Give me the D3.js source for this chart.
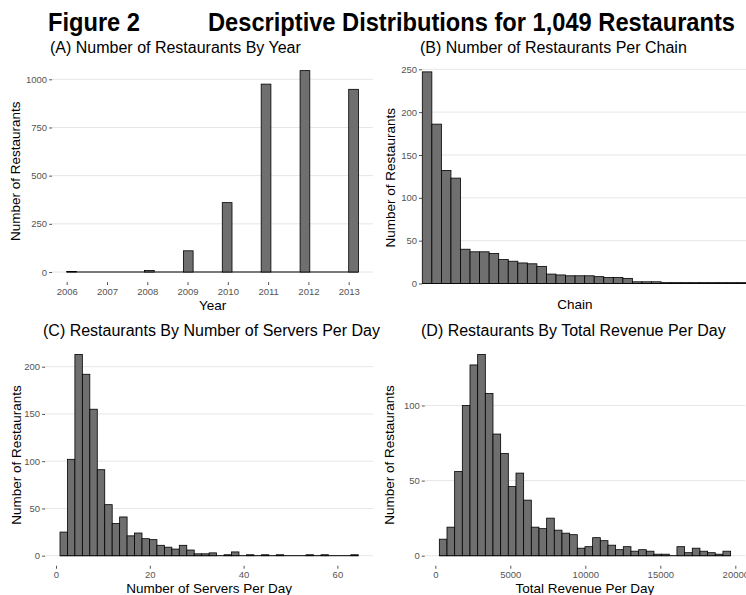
<!DOCTYPE html>
<html>
<head>
<meta charset="utf-8">
<script src="https://cdn.jsdelivr.net/npm/d3@7"></script>
<style>
  body { margin: 0; background: #fff; }
  text { font-family: "Liberation Sans", Arial, sans-serif; }
</style>
</head>
<body>
<script>
// ---- data ----
// (A) restaurants observed by year
const years = [2006, 2007, 2008, 2009, 2010, 2011, 2012, 2013];
const yearCounts = [3, 0, 8, 110, 360, 975, 1045, 948];

// (B) restaurants per chain, sorted
const chainCounts = [247, 186, 132, 123, 40, 37, 37, 35, 28, 26, 24, 23, 20, 11, 10, 9, 9,
                     9, 8, 7, 7, 6, 2, 2, 2, 1, 1, 1, 1, 1, 1, 1, 1, 1];

// (C) histogram of servers per day
const serverBinStart = 0.85, serverBinWidth = 1.59;
const serverCounts = [25, 102, 213, 192, 155, 91, 54, 34, 41, 21, 24, 18, 17, 11, 9, 7, 11, 6, 2, 2,
                      3, 0, 1, 4, 0, 1, 0, 1, 0, 1, 0, 0, 0, 1, 0, 1, 0, 0, 0, 1];

// (D) histogram of total revenue per day
const revenueBinStart = 269, revenueBinWidth = 511;
const revenueCounts = [11, 19, 56, 100, 127, 134, 108, 81, 68, 46, 55, 37, 19, 18, 25, 17, 15, 14, 5,
                       6, 12, 10, 7, 4, 6, 3, 4, 3, 1, 1, 0, 6, 2, 5, 3, 2, 1, 3];

const yearTicks = years;
const chainYTicks = [0, 50, 100, 150, 200, 250];
const yearYTicks = [0, 250, 500, 750, 1000];
const serverXTicks = [0, 20, 40, 60];
const serverYTicks = [0, 50, 100, 150, 200];
const revenueXTicks = [0, 5000, 10000, 15000, 20000];
const revenueYTicks = [0, 50, 100];

const barFill = "#6f6f6f";
const gridCol = "#e6e6e6";
const tickCol = "#555555";

const svg = d3.select("body").append("svg")
            .attr("width", 746)
            .attr("height", 595);

// Title
svg.append("text").attr("x", 48).attr("y", 31)
   .text("Figure 2")
   .style("font-size", "25px").style("font-weight", "bold")
   .attr("textLength", 92).attr("lengthAdjust", "spacingAndGlyphs");
svg.append("text").attr("x", 208).attr("y", 31)
   .text("Descriptive Distributions for 1,049 Restaurants")
   .style("font-size", "25px").style("font-weight", "bold")
   .attr("textLength", 527).attr("lengthAdjust", "spacingAndGlyphs");

// grid + y axis for a panel
function frame(p, y, yTicks) {
  const g = svg.append("g");
  g.selectAll("line.grid")
   .data(yTicks)
   .enter()
   .append("line")
   .attr("x1", p.left).attr("x2", p.right)
   .attr("y1", d => y(d)).attr("y2", d => y(d))
   .attr("stroke", gridCol).attr("stroke-width", 1);

  const ax = svg.append("g")
    .attr("transform", `translate(${p.left},0)`)
    .call(d3.axisLeft(y).tickValues(yTicks).tickFormat(d3.format("d")).tickSize(3).tickPadding(2));
  ax.select(".domain").remove();
  ax.selectAll("line").attr("stroke", tickCol);
  ax.selectAll("text").attr("fill", tickCol)
    .style("font-size", "9.5px").style("font-family", "Liberation Sans, Arial, sans-serif");

  // subtitle
  svg.append("text").attr("x", p.titleX).attr("y", p.top - 8)
     .text(p.title).style("font-size", "16px");
  // y title
  svg.append("text")
     .attr("transform", `translate(${p.yTitleX},${(p.top + p.bottom) / 2}) rotate(-90)`)
     .attr("text-anchor", "middle")
     .text("Number of Restaurants").style("font-size", "13.5px");
}

function xAxis(p, x, ticks, fmt) {
  const ax = svg.append("g")
    .attr("transform", `translate(0,${p.bottom})`)
    .call(d3.axisBottom(x).tickValues(ticks).tickFormat(fmt).tickSize(3).tickPadding(3));
  ax.select(".domain").remove();
  ax.selectAll("line").attr("stroke", tickCol);
  ax.selectAll("text").attr("fill", tickCol)
    .style("font-size", "9.5px").style("font-family", "Liberation Sans, Arial, sans-serif");
}

function xTitle(cx, cy, label) {
  svg.append("text").attr("x", cx).attr("y", cy)
     .attr("text-anchor", "middle").text(label).style("font-size", "13.5px");
}

// histogram bars (zero bins show as the black baseline)
function bars(x, y, bins) {
  svg.append("line")
     .attr("x1", x(bins[0].x0)).attr("x2", x(bins[bins.length - 1].x1))
     .attr("y1", y(0)).attr("y2", y(0))
     .attr("stroke", "#000").attr("stroke-width", 1);
  svg.append("g").selectAll("rect")
     .data(bins.filter(d => d.n > 0))
     .enter()
     .append("rect")
     .attr("x", d => x(d.x0))
     .attr("width", d => x(d.x1) - x(d.x0))
     .attr("y", d => y(d.n))
     .attr("height", d => y(0) - y(d.n))
     .attr("fill", barFill)
     .attr("stroke", "#000")
     .attr("stroke-width", 0.8);
}

// ---------- (A) ----------
const xA = d3.scaleLinear().domain([2006, 2013]).range([66.7, 348.7]);
const yA = d3.scaleLinear().domain([0, 1000]).range([272, 79.3]);
const bwA = 7 / 29;
const binsA = d3.range(30).map(i => ({x0: 2006 + i * bwA, x1: 2006 + (i + 1) * bwA, n: 0}));
years.forEach((yr, i) => {
  binsA[Math.floor((yr - 2006) / bwA + 1e-9)].n = yearCounts[i];
});
const padAx = 0.05 * (binsA[29].x1 - 2006);
const pA = {left: xA(2006 - padAx), right: xA(binsA[29].x1 + padAx),
            top: yA(1.05 * d3.max(yearCounts)), bottom: yA(-0.05 * d3.max(yearCounts)),
            title: "(A) Number of Restaurants By Year", titleX: 50, yTitleX: 20};
frame(pA, yA, yearYTicks);
bars(xA, yA, binsA);
xAxis(pA, xA, yearTicks, d3.format("d"));
xTitle((pA.left + pA.right) / 2, 310, "Year");

// ---------- (B) ----------
const xB = d3.scaleLinear().domain([0, chainCounts.length]).range([422.3, 422.3 + chainCounts.length * 9.55]);
const yB = d3.scaleLinear().domain([0, 250]).range([283.5, 69.3]);
const binsB = chainCounts.map((n, i) => ({x0: i, x1: i + 1, n: n}));
const pB = {left: 422, right: 746,
            top: yB(1.05 * d3.max(chainCounts)), bottom: yB(-0.05 * d3.max(chainCounts)),
            title: "(B) Number of Restaurants Per Chain", titleX: 420, yTitleX: 395};
frame(pB, yB, chainYTicks);
bars(xB, yB, binsB);
xTitle(575, 309, "Chain");

// ---------- (C) ----------
const xC = d3.scaleLinear().domain([0, 60]).range([56, 337.4]);
const yC = d3.scaleLinear().domain([0, 200]).range([555.7, 366.7]);
const binsC = serverCounts.map((n, i) => ({x0: serverBinStart + i * serverBinWidth,
                                           x1: serverBinStart + (i + 1) * serverBinWidth, n: n}));
const spanC = binsC[binsC.length - 1].x1 - binsC[0].x0;
const pC = {left: xC(binsC[0].x0 - 0.05 * spanC), right: xC(binsC[binsC.length - 1].x1 + 0.05 * spanC),
            top: yC(1.05 * d3.max(serverCounts)), bottom: yC(-0.05 * d3.max(serverCounts)),
            title: "(C) Restaurants By Number of Servers Per Day", titleX: 43, yTitleX: 21};
frame(pC, yC, serverYTicks);
bars(xC, yC, binsC);
xAxis(pC, xC, serverXTicks, d3.format("d"));
xTitle((pC.left + pC.right) / 2, 593, "Number of Servers Per Day");

// ---------- (D) ----------
const xD = d3.scaleLinear().domain([0, 20000]).range([435.3, 735.3]);
const yD = d3.scaleLinear().domain([0, 100]).range([555.7, 405.5]);
const binsD = revenueCounts.map((n, i) => ({x0: revenueBinStart + i * revenueBinWidth,
                                            x1: revenueBinStart + (i + 1) * revenueBinWidth, n: n}));
const spanD = binsD[binsD.length - 1].x1 - binsD[0].x0;
const pD = {left: xD(binsD[0].x0 - 0.05 * spanD), right: xD(binsD[binsD.length - 1].x1 + 0.05 * spanD),
            top: yD(1.05 * d3.max(revenueCounts)), bottom: yD(-0.05 * d3.max(revenueCounts)),
            title: "(D) Restaurants By Total Revenue Per Day", titleX: 421, yTitleX: 394};
frame(pD, yD, revenueYTicks);
bars(xD, yD, binsD);
xAxis(pD, xD, revenueXTicks, d3.format("d"));
xTitle((pD.left + pD.right) / 2, 593, "Total Revenue Per Day");
</script>
</body>
</html>
